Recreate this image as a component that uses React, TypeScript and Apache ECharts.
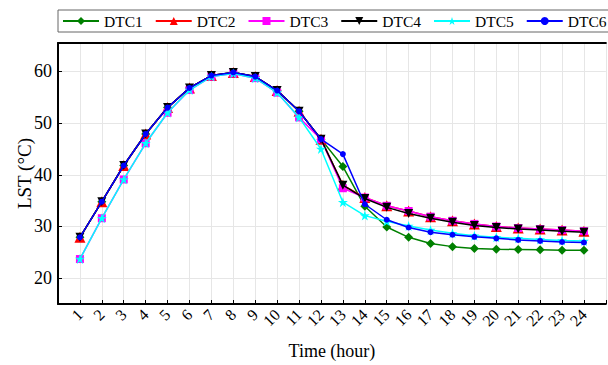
import React, { useEffect, useRef } from "react";
import * as echarts from "echarts";

const hours = [1, 2, 3, 4, 5, 6, 7, 8, 9, 10, 11, 12, 13, 14, 15, 16, 17, 18, 19, 20, 21, 22, 23, 24];
const seriesNames = ["DTC1", "DTC2", "DTC3", "DTC4", "DTC5", "DTC6"];
const dtc1 = [27.9, 34.8, 41.8, 47.9, 53.0, 56.8, 59.2, 59.8, 59.0, 56.3, 52.3, 46.9, 41.6, 33.9, 29.9, 27.9, 26.7, 26.1, 25.75, 25.6, 25.55, 25.5, 25.4, 25.4];
const dtc2 = [27.9, 34.8, 41.8, 47.9, 53.0, 56.8, 59.2, 59.8, 59.0, 56.3, 52.3, 46.9, 38.0, 35.6, 34.0, 33.0, 31.9, 31.1, 30.5, 30.0, 29.7, 29.5, 29.3, 29.1];
const dtc3 = [23.7, 31.6, 39.1, 46.1, 52.0, 56.4, 59.0, 59.6, 58.7, 55.9, 51.1, 46.9, 37.4, 35.6, 34.0, 33.0, 31.9, 31.1, 30.5, 30.0, 29.7, 29.5, 29.3, 29.1];
const dtc4 = [27.9, 34.8, 41.8, 47.9, 53.0, 56.8, 59.2, 59.8, 59.0, 56.3, 52.3, 46.9, 38.0, 35.4, 33.7, 32.5, 31.6, 30.8, 30.2, 29.8, 29.5, 29.3, 29.1, 28.9];
const dtc5 = [23.7, 31.6, 39.1, 46.1, 52.0, 56.4, 59.0, 59.6, 58.7, 55.9, 51.1, 45.0, 34.7, 32.1, 31.0, 30.1, 29.3, 28.7, 28.2, 27.9, 27.7, 27.5, 27.3, 27.2];
const dtc6 = [27.9, 34.8, 41.8, 47.9, 53.0, 56.8, 59.2, 59.8, 59.0, 56.3, 52.3, 46.9, 44.0, 34.3, 31.3, 29.8, 28.9, 28.4, 28.0, 27.7, 27.4, 27.2, 27.0, 26.9];
const yTicks = [20, 30, 40, 50, 60];

const STAR =
  "path://M50,0 L61.8,35.5 L100,35.5 L69.1,57.5 L80.9,95 L50,72 L19.1,95 L30.9,57.5 L0,35.5 L38.2,35.5 Z";

export default function App() {
  const ref = useRef<HTMLDivElement>(null);
  useEffect(() => {
    if (!ref.current) return;
    const chart = echarts.init(ref.current, null, { renderer: "svg" });
    const font = "'Liberation Serif', 'Times New Roman', serif";
    const allData = [dtc1, dtc2, dtc3, dtc4, dtc5, dtc6];
    const styles = [
      { color: "#008000", symbol: "diamond", size: 9, rotate: 0 },
      { color: "#ff0000", symbol: "triangle", size: 11, rotate: 0 },
      { color: "#ff00ff", symbol: "rect", size: 8, rotate: 0 },
      { color: "#000000", symbol: "triangle", size: 9, rotate: 180 },
      { color: "#00ffff", symbol: STAR, size: 10, rotate: 0 },
      { color: "#0000ff", symbol: "circle", size: 6, rotate: 0 },
    ];
    const series = seriesNames.map((name, i) => ({
      name,
      type: "line",
      data: hours.map((h, j) => [h, allData[i][j]]),
      symbol: styles[i].symbol,
      symbolSize: styles[i].size,
      symbolRotate: styles[i].rotate,
      showAllSymbol: true,
      lineStyle: { color: styles[i].color, width: 1.5 },
      itemStyle: { color: styles[i].color, borderWidth: 0 },
      z: 2 + i,
    }));
    chart.setOption({
      animation: false,
      backgroundColor: "#ffffff",
      textStyle: { fontFamily: font },
      legend: {
        left: 58,
        top: 10,
        width: 640,
        orient: "horizontal",
        itemWidth: 36,
        itemHeight: 10,
        itemGap: 12,
        padding: [3, 6, 3, 4],
        borderColor: "#666",
        borderWidth: 1,
        borderRadius: 0,
        textStyle: { fontFamily: font, fontSize: 15.5, color: "#000" },
        data: seriesNames,
      },
      grid: { left: 58, top: 43, width: 551, bottom: 58, containLabel: false },
      xAxis: [
        {
          type: "value",
          min: 0,
          max: 25,
          interval: 1,
          name: "Time (hour)",
          nameLocation: "middle",
          nameGap: 38,
          nameMoveOverlap: false,
          nameTextStyle: { fontFamily: font, fontSize: 18, color: "#000" },
          axisLine: { show: true, onZero: false, lineStyle: { color: "#000", width: 2 } },
          axisTick: { show: true, inside: true, length: 4, lineStyle: { color: "#000" } },
          axisLabel: {
            rotate: 45,
            fontFamily: font,
            fontSize: 16,
            color: "#000",
            margin: 8,
            formatter: (v: number) => (v >= 1 && v <= 24 ? String(v) : ""),
          },
          splitLine: { show: true, lineStyle: { color: "#e6e6e6", width: 1 } },
        },
        {
          type: "value",
          position: "top",
          min: 0,
          max: 25,
          axisLine: { show: true, lineStyle: { color: "#000", width: 2 } },
          axisTick: { show: false },
          axisLabel: { show: false },
          splitLine: { show: false },
        },
      ],
      yAxis: {
        type: "value",
        min: 15,
        max: 65.5,
        name: "LST (°C)",
        nameLocation: "middle",
        nameGap: 24,
        nameMoveOverlap: false,
        nameTextStyle: { fontFamily: font, fontSize: 19, color: "#000" },
        axisLine: { show: true, onZero: false, lineStyle: { color: "#000", width: 2 } },
        axisTick: { show: true, inside: true, length: 4, customValues: yTicks, lineStyle: { color: "#000" } },
        axisLabel: { fontFamily: font, fontSize: 18, color: "#000", margin: 6, customValues: yTicks },
        splitLine: { show: true, lineStyle: { color: "#e6e6e6", width: 1 } },
      },
      series,
    });
    return () => chart.dispose();
  }, []);
  return <div ref={ref} style={{ width: 608, height: 365, position: "absolute", left: 0, top: 0 }} />;
}
